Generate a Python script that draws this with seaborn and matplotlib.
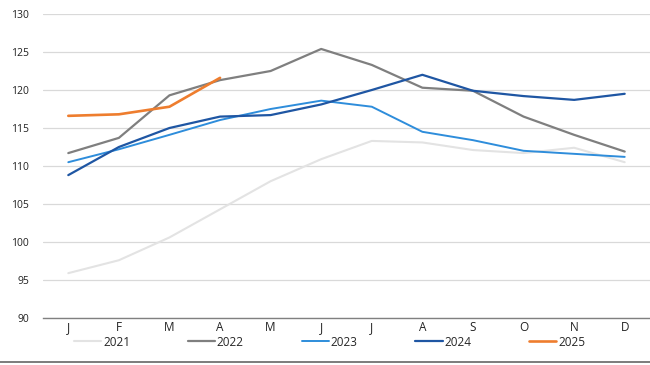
import numpy as np
import pandas as pd
import matplotlib
matplotlib.use("Agg")
import matplotlib.pyplot as plt
import seaborn as sns
from matplotlib.lines import Line2D

# ==================== 数据 ====================
months = ["J", "F", "M", "A", "M", "J", "J", "A", "S", "O", "N", "D"]
years = ["2021", "2022", "2023", "2024", "2025"]

v2021 = [95.9, 97.6, 100.6, 104.3, 108.0, 110.9, 113.3, 113.1, 112.1, 111.7, 112.4, 110.5]
v2022 = [111.7, 113.7, 119.3, 121.3, 122.5, 125.4, 123.3, 120.3, 119.9, 116.5, 114.1, 111.9]
v2023 = [110.5, 112.2, 114.1, 116.05, 117.5, 118.6, 117.8, 114.5, 113.4, 112.0, 111.6, 111.2]
v2024 = [108.8, 112.5, 115.0, 116.5, 116.7, 118.1, 120.0, 122.0, 119.9, 119.2, 118.7, 119.5]
v2025 = [116.6, 116.8, 117.8, 121.6]

series = {"2021": v2021, "2022": v2022, "2023": v2023, "2024": v2024, "2025": v2025}
colors = {"2021": "#e3e3e3", "2022": "#7f7f7f", "2023": "#2e8ddb",
          "2024": "#1f56a3", "2025": "#ee7d2e"}
widths = {"2021": 1.5, "2022": 1.6, "2023": 1.4, "2024": 1.6, "2025": 1.9}

rows = []
for y in years:
    for i, v in enumerate(series[y]):
        rows.append({"year": y, "month": i, "value": v})
df = pd.DataFrame(rows)

# ==================== 绘图 ====================
sns.set_style("white")
plt.rcParams["font.family"] = ["Open Sans", "DejaVu Sans"]

fig = plt.figure(figsize=(6.5, 3.65), dpi=100)
ax = fig.add_axes([43 / 650, 1 - 318 / 365, 1 - 43 / 650, (318 - 14) / 365])

for y in years:
    sns.lineplot(data=df[df["year"] == y], x="month", y="value", ax=ax,
                 color=colors[y], linewidth=widths[y], label=y, zorder=3)

ax.set_xlim(-0.5, 11.5)
ax.set_ylim(90, 130)
ax.set_yticks(np.arange(90, 131, 5))
ax.set_xticks(range(12))
ax.set_xticklabels(months)
ax.set_xticks(np.arange(-0.5, 12, 1), minor=True)
ax.tick_params(axis="x", which="major", length=0, labelsize=8.5, pad=2, colors="#222222")
ax.tick_params(axis="x", which="minor", length=3.5, direction="out", color="#808080", width=0.8)
ax.tick_params(axis="y", length=0, labelsize=7.5, pad=10, colors="#222222")
ax.set_xlabel("")
ax.set_ylabel("")

ax.grid(axis="y", color="#d9d9d9", linewidth=0.9, zorder=0)
ax.grid(axis="x", visible=False)
for s in ["left", "right", "top"]:
    ax.spines[s].set_visible(False)
ax.spines["bottom"].set_color("#808080")
ax.spines["bottom"].set_linewidth(1.0)

handles, labels = ax.get_legend_handles_labels()
ax.legend(handles, labels, loc="center", bbox_to_anchor=(0.507, 1 - 342 / 365),
          bbox_transform=fig.transFigure, ncol=5, frameon=False, fontsize=8.5,
          handlelength=2.3, handletextpad=0.15, columnspacing=4.9,
          borderpad=0)

# 底部横线
fig.add_artist(Line2D([0, 1], [1 - 362 / 365, 1 - 362 / 365],
                      transform=fig.transFigure, color="#666666", linewidth=1.2))

plt.savefig("out.png", dpi=100)
